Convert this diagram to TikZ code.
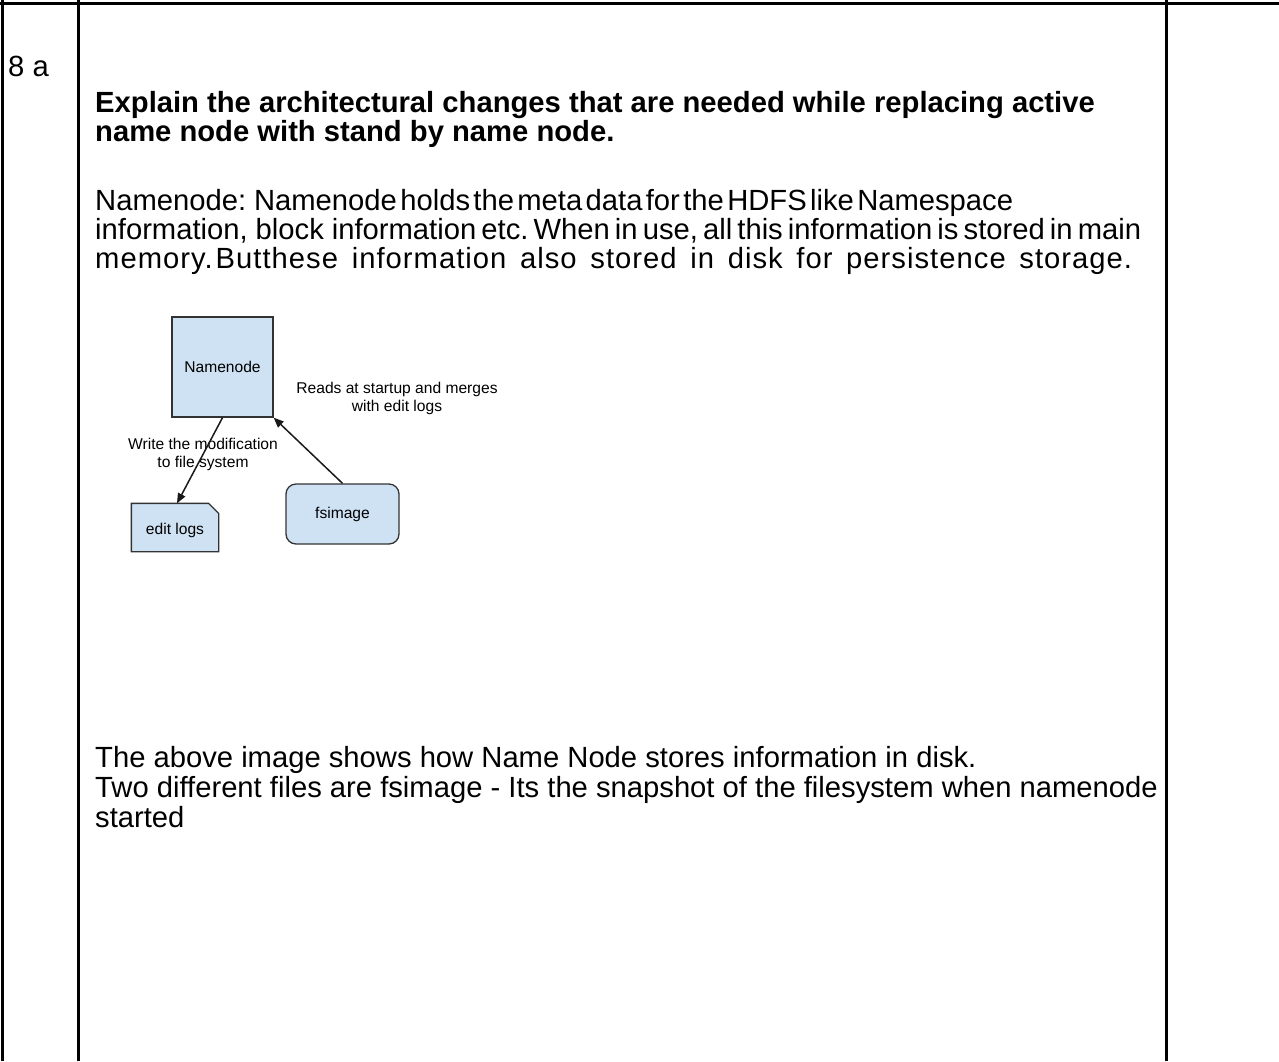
\documentclass[tikz,border=0pt]{standalone}
\usepackage{fontspec}
\setmainfont{Liberation Sans}
\usetikzlibrary{arrows.meta}

\definecolor{boxfill}{HTML}{CFE2F3}
\definecolor{boxline}{HTML}{333333}

\newcommand{\bodyfont}{\fontsize{29.2}{29.5}\selectfont}
\newcommand{\smallfont}{\fontsize{15.6}{18}\selectfont}
% a line stretched to a given width, the gaps sharing the spare room
\newcommand{\spreadline}[2]{\hbox to #1pt{\frenchspacing\spaceskip=0pt plus 1fil\relax #2}}

\tikzset{
  rule/.style={line width=3pt, black},
  bodytext/.style={anchor=base west, inner sep=0pt, font=\bodyfont},
  titletext/.style={bodytext, font=\bodyfont\bfseries},
  dgmtext/.style={inner sep=0pt, align=center, font=\smallfont},
  dgmbox/.style={draw=boxline, fill=boxfill, line width=1.3pt, font=\smallfont, inner sep=0pt},
  link/.style={line width=1.5pt, draw=black!90, -{Triangle[length=10pt,width=8pt]}},
}

\begin{document}
\begin{tikzpicture}[x=1pt, y=-1pt]
\useasboundingbox (0,0) rectangle (1279,1061);

% table frame
\draw[rule] (0,3) -- (1279,3);
\draw[rule] (2,0) -- (2,1061);
\draw[rule] (78,0) -- (78,1061);
\draw[rule] (1166,0) -- (1166,1061);

% question number and question
\node[bodytext] (qno) at (8,76) {8 a};
\node[titletext] (q1) at (95,112) {Explain the architectural changes that are needed while replacing active};
\node[titletext] (q2) at (95,141) {name node with stand by name node.};

% answer text
\node[bodytext] (p1) at (95,210) {\spreadline{918}{Namenode:\kern8pt Namenode holds the meta data for the HDFS like Namespace}};
\node[bodytext] (p2) at (95,239) {\spreadline{1046}{information,\kern8pt block\kern8pt information etc. When in use, all this information is stored in main}};
\node[bodytext] (p3) at (95,268) {\addfontfeature{LetterSpace=3.5}\spreadline{1037}{memory.\kern3pt But\kern1pt these information also stored in disk for persistence storage.}};

% namenode storage diagram
\node[dgmbox, minimum width=101pt, minimum height=100pt] (nn) at (222.5,367) {Namenode};
\node[dgmbox, draw=none, fill=none, minimum width=86pt, minimum height=47pt] (el) at (175,527.5) {};
\filldraw[draw=boxline, fill=boxfill, line width=1.3pt]
  (el.north west) -- ([xshift=-10pt]el.north east) -- ([yshift=-10pt]el.north east)
  -- (el.south east) -- (el.south west) -- cycle;
\node[font=\smallfont, inner sep=0pt] (ellabel) at ([yshift=-3pt]el.center) {edit logs};
\node[dgmbox, rounded corners=10pt, minimum width=113pt, minimum height=60pt] (fs) at (342.5,514) {fsimage};

\node[dgmtext] (wlabel) at (203,454) {Write the modification\\to file system};
\node[dgmtext] (rlabel) at (397,398) {Reads at startup and merges\\with edit logs};

\draw[link] (nn.south) -- ([xshift=2pt]el.north);
\draw[link] (fs.north) -- (nn.south east);

% closing remarks
\node[bodytext] (r1) at (95,767) {The above image shows how Name Node stores information in disk.};
\node[bodytext] (r2) at (95,797) {Two different files are fsimage - Its the snapshot of the filesystem when namenode};
\node[bodytext] (r3) at (95,827) {started};
\end{tikzpicture}
\end{document}
